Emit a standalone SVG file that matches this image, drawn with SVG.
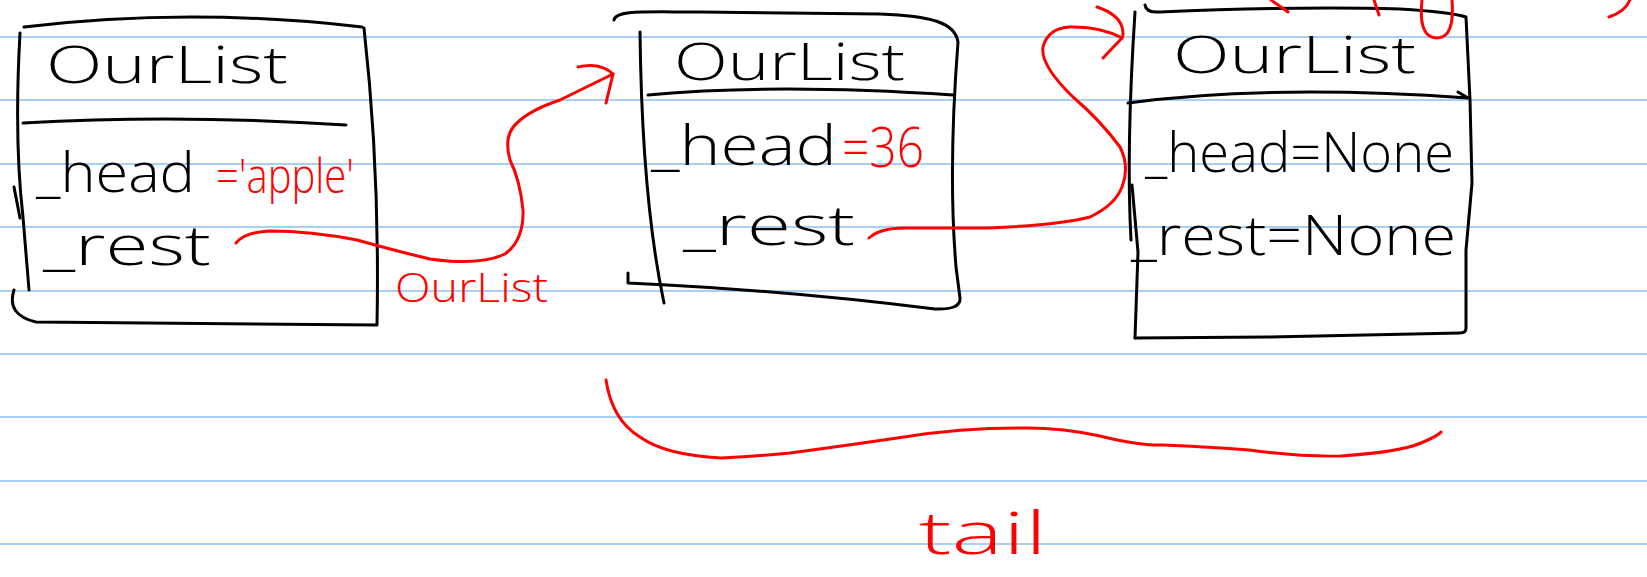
<svg xmlns="http://www.w3.org/2000/svg" width="1647" height="577" viewBox="0 0 1647 577">
<style>
.rule{stroke:#a8cff6;stroke-width:2}
.ink{fill:none;stroke:#000;stroke-width:3;stroke-linecap:round;stroke-linejoin:round}
.red{fill:none;stroke:#f00;stroke-width:3;stroke-linecap:round;stroke-linejoin:round}
.t{font-family:"Open Sans","Liberation Sans",sans-serif;font-weight:300;fill:#000}
.rt{font-family:"Open Sans","Liberation Sans",sans-serif;font-weight:300;fill:#f00}
</style>
<rect width="1647" height="577" fill="#fff"/>
<g id="ruling">
<line class="rule" x1="0" y1="37" x2="1647" y2="37"/>
<line class="rule" x1="0" y1="100" x2="1647" y2="100"/>
<line class="rule" x1="0" y1="164" x2="1647" y2="164"/>
<line class="rule" x1="0" y1="227" x2="1647" y2="227"/>
<line class="rule" x1="0" y1="291" x2="1647" y2="291"/>
<line class="rule" x1="0" y1="354" x2="1647" y2="354"/>
<line class="rule" x1="0" y1="417" x2="1647" y2="417"/>
<line class="rule" x1="0" y1="481" x2="1647" y2="481"/>
<line class="rule" x1="0" y1="544" x2="1647" y2="544"/>
</g>
<g id="box1">
<path class="ink" d="M24,27 Q190,7 362,27"/>
<path class="ink" d="M364,28 Q380,170 377,325 L36,322 Q6,315 14,290"/>
<path class="ink" d="M20,33 Q14,140 23,217 L29,290"/>
<path class="ink" d="M14,187 L20,218"/>
<path class="ink" d="M23,123 Q180,114 346,125"/>
<text class="t" x="46" y="83" font-size="52" textLength="242" lengthAdjust="spacingAndGlyphs">OurList</text>
<text class="t" x="36" y="192" font-size="56" textLength="159" lengthAdjust="spacingAndGlyphs">_head</text>
<text class="rt" x="216" y="193" font-size="48" textLength="138" lengthAdjust="spacingAndGlyphs">='apple'</text>
<text class="t" x="43" y="265" font-size="56" textLength="168" lengthAdjust="spacingAndGlyphs">_rest</text>
</g>
<g id="box2">
<path class="ink" d="M614,20 C616,10 640,12 700,12 L880,14 C930,16 955,22 958,42 Q948,170 956,267 L960,298 Q961,310 935,309 Q800,292 667,285 L628,283 L628,273"/>
<path class="ink" d="M640,32 Q642,200 664,303"/>
<path class="ink" d="M648,95 Q775,83 953,95"/>
<text class="t" x="674" y="80" font-size="52" textLength="231" lengthAdjust="spacingAndGlyphs">OurList</text>
<text class="t" x="651" y="165" font-size="56" textLength="186" lengthAdjust="spacingAndGlyphs">_head</text>
<text class="rt" x="842" y="167" font-size="56" textLength="82" lengthAdjust="spacingAndGlyphs">=36</text>
<text class="t" x="683" y="245" font-size="56" textLength="172" lengthAdjust="spacingAndGlyphs">_rest</text>
</g>
<g id="box3">
<path class="ink" d="M1145,5 Q1146,13 1160,12 Q1300,6 1400,9 Q1450,12 1466,17 L1470,100 L1472,183 L1466,250 L1466,328 Q1466,333 1460,333 L1267,337 L1135,338"/>
<path class="ink" d="M1135,12 Q1126,150 1131,240"/>
<path class="ink" d="M1132,185 L1138,252 L1135,338"/>
<path class="ink" d="M1128,103 Q1270,84 1468,98 M1458,92 L1468,98"/>
<text class="t" x="1173" y="73" font-size="52" textLength="243" lengthAdjust="spacingAndGlyphs">OurList</text>
<text class="t" x="1145" y="172" font-size="56" textLength="309" lengthAdjust="spacingAndGlyphs">_head=None</text>
<text class="t" x="1131" y="255" font-size="56" textLength="325" lengthAdjust="spacingAndGlyphs">_rest=None</text>
</g>
<g id="connectors">
<g id="conn1">
<path class="red" d="M236,243 Q245,232 270,231 Q310,231 357,240 Q400,252 430,259 Q480,266 505,254 Q524,240 523,210 Q520,180 510,160 Q503,135 517,123 Q530,110 560,100 L613,74"/>
<path class="red" d="M578,67 Q600,62 613,74 L606,103"/>
<text class="rt" x="395" y="302" font-size="40" textLength="153" lengthAdjust="spacingAndGlyphs">OurList</text>
</g>
<g id="conn2">
<path class="red" d="M869,238 Q880,228 905,228 L989,228 Q1060,225 1090,217 Q1115,205 1122,187 Q1130,167 1120,147 Q1100,120 1073,97 Q1040,65 1043,47 Q1048,28 1070,27 Q1100,26 1122,38"/>
<path class="red" d="M1097,7 Q1118,14 1122,27 Q1124,35 1122,38 L1103,58"/>
</g>
</g>
<g id="annotations">
<path class="red" d="M606,380 Q612,420 640,437 Q665,455 721,458 Q760,456 790,453 Q850,445 904,437 Q960,428 1019,428 Q1060,427 1100,436 Q1140,446 1163,445 Q1210,447 1249,450 Q1300,457 1341,456 Q1400,452 1421,443 Q1438,436 1441,432"/>
<text class="rt" x="919" y="554" font-size="58" textLength="128" lengthAdjust="spacingAndGlyphs">tail</text>
<path class="red" d="M1271,0 L1288,12 M1374,0 L1379,15 M1422,0 Q1418,38 1437,38 Q1455,38 1452,0 M1630,0 Q1625,12 1609,17"/>
</g>
</svg>
